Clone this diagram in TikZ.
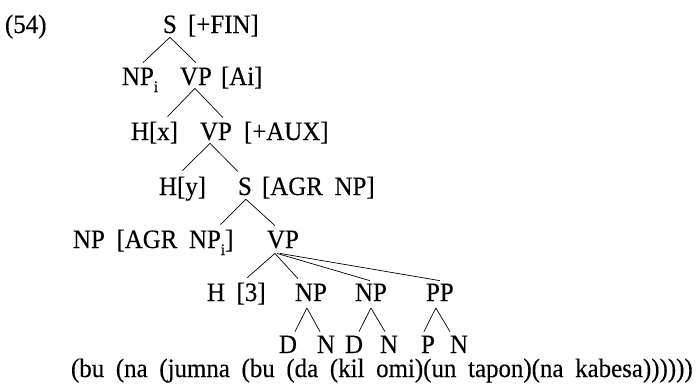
\documentclass[tikz,border=0pt]{standalone}
\usepackage{fontspec}
\setmainfont{Liberation Serif}[FakeStretch=0.94,FakeBold=0.3]
\usetikzlibrary{calc}
\newcommand\isub{\raisebox{-7pt}{\fontsize{16pt}{16pt}\selectfont i}}
\newcommand\labfont{\fontsize{26.5pt}{26.5pt}\selectfont\spaceskip=0.44em plus 0pt minus 0pt\relax}
\begin{document}
\begin{tikzpicture}[x=1pt,y=-1pt,
  lab/.style={anchor=base west,inner sep=0pt,outer sep=0pt,font=\labfont},
  br/.style={line width=0.7pt}]
\useasboundingbox (0,0) rectangle (700,388);
% row 1
\node[lab] (ex) at (5,33) {(54)};
\node[lab] (s1) at (163,33) {S};
\node[lab] (f1) at (188,33) {[+FIN]};
% row 2
\node[lab] (np1) at (122,85) {NP\isub};
\node[lab] (vp1) at (180,85) {VP};
\node[lab] (f2) at (221,85) {[Ai]};
% row 3
\node[lab] (hx) at (131,140) {H[x]};
\node[lab] (vp2) at (200,140) {VP};
\node[lab] (f3) at (244,140) {[+AUX]};
% row 4
\node[lab] (hy) at (159,195) {H[y]};
\node[lab] (s2) at (238,195) {S};
\node[lab] (f4) at (262,195) {[AGR NP]};
% row 5
\node[lab] (np2) at (73,248) {NP [AGR NP\isub]};
\node[lab] (vp3) at (267,248) {VP};
% row 6
\node[lab] (h3) at (207,301) {H [3]};
\node[lab] (np3) at (295,301) {NP};
\node[lab] (np4) at (355,301) {NP};
\node[lab] (pp) at (426,301) {PP};
% row 7
\node[lab] (d1) at (279,353) {D};
\node[lab] (n1) at (317,353) {N};
\node[lab] (d2) at (345,353) {D};
\node[lab] (n2) at (380,353) {N};
\node[lab] (p1) at (421,353) {P};
\node[lab] (n3) at (450,353) {N};
% bottom
\node[lab] (bot) at (71,377) {(bu (na (jumna (bu (da (kil omi)(un tapon)(na kabesa))))))};
% branches
\draw[br] ($(s1.south)+(0,4)$) -- ($(np1.north)+(3,-5)$);
\draw[br] ($(s1.south)+(0,4)$) -- ($(vp1.north)+(0,-5)$);
\draw[br] ($(vp1.south)+(-1,3)$) -- ($(hx.north)+(13,-5)$);
\draw[br] ($(vp1.south)+(-1,3)$) -- ($(vp2.north)+(7,-5)$);
\draw[br] ($(vp2.south)+(-6,3)$) -- ($(hy.north)+(0,-6)$);
\draw[br] ($(vp2.south)+(-6,3)$) -- ($(s2.north)+(-7,-6)$);
\draw[br] ($(s2.south)+(1,4)$) -- ($(np2.north east)+(-13,-5)$);
\draw[br] ($(s2.south)+(1,4)$) -- ($(vp3.north)+(-8,-5)$);
\draw[br] ($(vp3.south)+(-8,5)$) -- ($(h3.north)+(11,-5)$);
\draw[br] ($(vp3.south)+(-8,5)$) -- ($(np3.north)+(-13,-5)$);
\draw[br] ($(vp3.south)+(-6,5)$) -- ($(np4.north)+(-1,-3)$);
\draw[br] ($(vp3.south)+(-3,5)$) -- ($(pp.north)+(0,-3)$);
\draw[br] ($(np3.south)+(-4,7)$) -- ($(d1.north east)+(-2,-4)$);
\draw[br] ($(np3.south)+(-4,7)$) -- ($(n1.north)+(-6,-4)$);
\draw[br] ($(np4.south)+(0,7)$) -- ($(d2.north east)+(-4,-4)$);
\draw[br] ($(np4.south)+(0,7)$) -- ($(n2.north)+(-4,-4)$);
\draw[br] ($(pp.south)+(-4,7)$) -- ($(p1.north)+(-4,-4)$);
\draw[br] ($(pp.south)+(-4,7)$) -- ($(n3.north)+(-9,-4)$);
\end{tikzpicture}
\end{document}
